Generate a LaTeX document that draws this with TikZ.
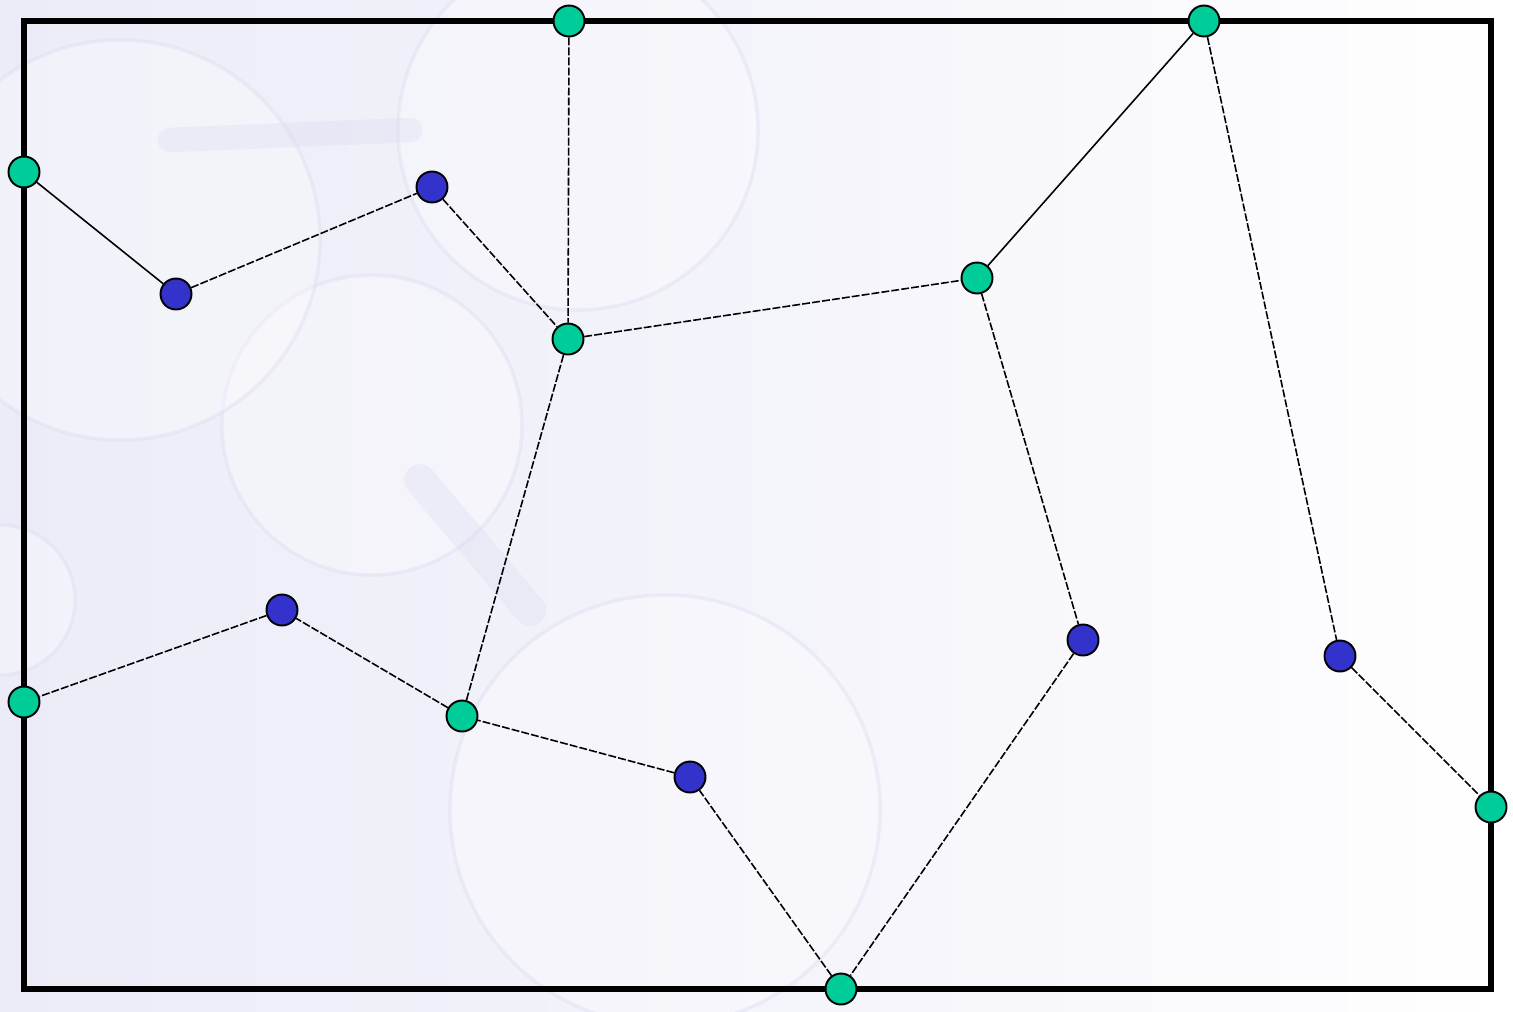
\documentclass[tikz,border=0pt]{standalone}
\usetikzlibrary{calc}
\definecolor{atomgreen}{RGB}{0,204,153}
\definecolor{atomblue}{RGB}{51,51,204}
\definecolor{haze}{RGB}{236,236,248}
\definecolor{glass}{RGB}{215,218,238}
\begin{document}
\begin{tikzpicture}[x=0.02cm,y=-0.02cm,
  atom/.style={circle,draw=black,line width=1.1pt,minimum size=0.62cm,inner sep=0pt},
  ga/.style={atom,fill=atomgreen},
  ba/.style={atom,fill=atomblue},
  bond/.style={draw=black,line width=0.9pt},
  dbond/.style={bond,dash pattern=on 4.5pt off 1.2pt},
  frame/.style={draw=black,line width=3pt},
  bead/.style={draw=glass,line width=2pt,fill=white,fill opacity=0.3,draw opacity=0.35}]
% backdrop
\useasboundingbox (0,0) rectangle (1513,1011);
\shade[left color=haze,right color=white,middle color=haze!60!white] (0,0) rectangle (1513,1011);
\begin{scope}
  \clip (0,0) rectangle (1050,1011);
  \draw[bead] (578,130) circle (180);
  \draw[bead] (372,425) circle (150);
  \draw[bead] (665,810) circle (215);
  \draw[bead] (120,240) circle (200);
  \draw[bead] (0,600) circle (75);
  \draw[glass,line width=18pt,line cap=round,opacity=0.3] (420,480) -- (530,610);
  \draw[glass,line width=14pt,line cap=round,opacity=0.3] (170,140) -- (410,130);
\end{scope}
% frame
\draw[frame] (24,21) rectangle (1491,989);
% atoms
\node[ga] (g1) at (569,21) {};
\node[ga] (g2) at (1204,21) {};
\node[ga] (g3) at (24,172) {};
\node[ba] (b1) at (176,294) {};
\node[ba] (b2) at (432,187) {};
\node[ga] (g4) at (568,339) {};
\node[ga] (g5) at (977,278) {};
\node[ba] (b3) at (282,610) {};
\node[ga] (g6) at (24,702) {};
\node[ga] (g7) at (462,716) {};
\node[ba] (b4) at (690,777) {};
\node[ga] (g8) at (841,989) {};
\node[ba] (b5) at (1083,640) {};
\node[ba] (b6) at (1340,656) {};
\node[ga] (g9) at (1491,807) {};
% bonds
\draw[bond] (g3) -- (b1);
\draw[bond] (g5) -- (g2);
\draw[dbond] (b1) -- (b2);
\draw[dbond] (b2) -- (g4);
\draw[dbond] (g1) -- (g4);
\draw[dbond] (g4) -- (g5);
\draw[dbond] (g2) -- (b6);
\draw[dbond] (b6) -- (g9);
\draw[dbond] (g5) -- (b5);
\draw[dbond] (b5) -- (g8);
\draw[dbond] (g8) -- (b4);
\draw[dbond] (b4) -- (g7);
\draw[dbond] (g7) -- (g4);
\draw[dbond] (g7) -- (b3);
\draw[dbond] (b3) -- (g6);
\end{tikzpicture}
\end{document}
